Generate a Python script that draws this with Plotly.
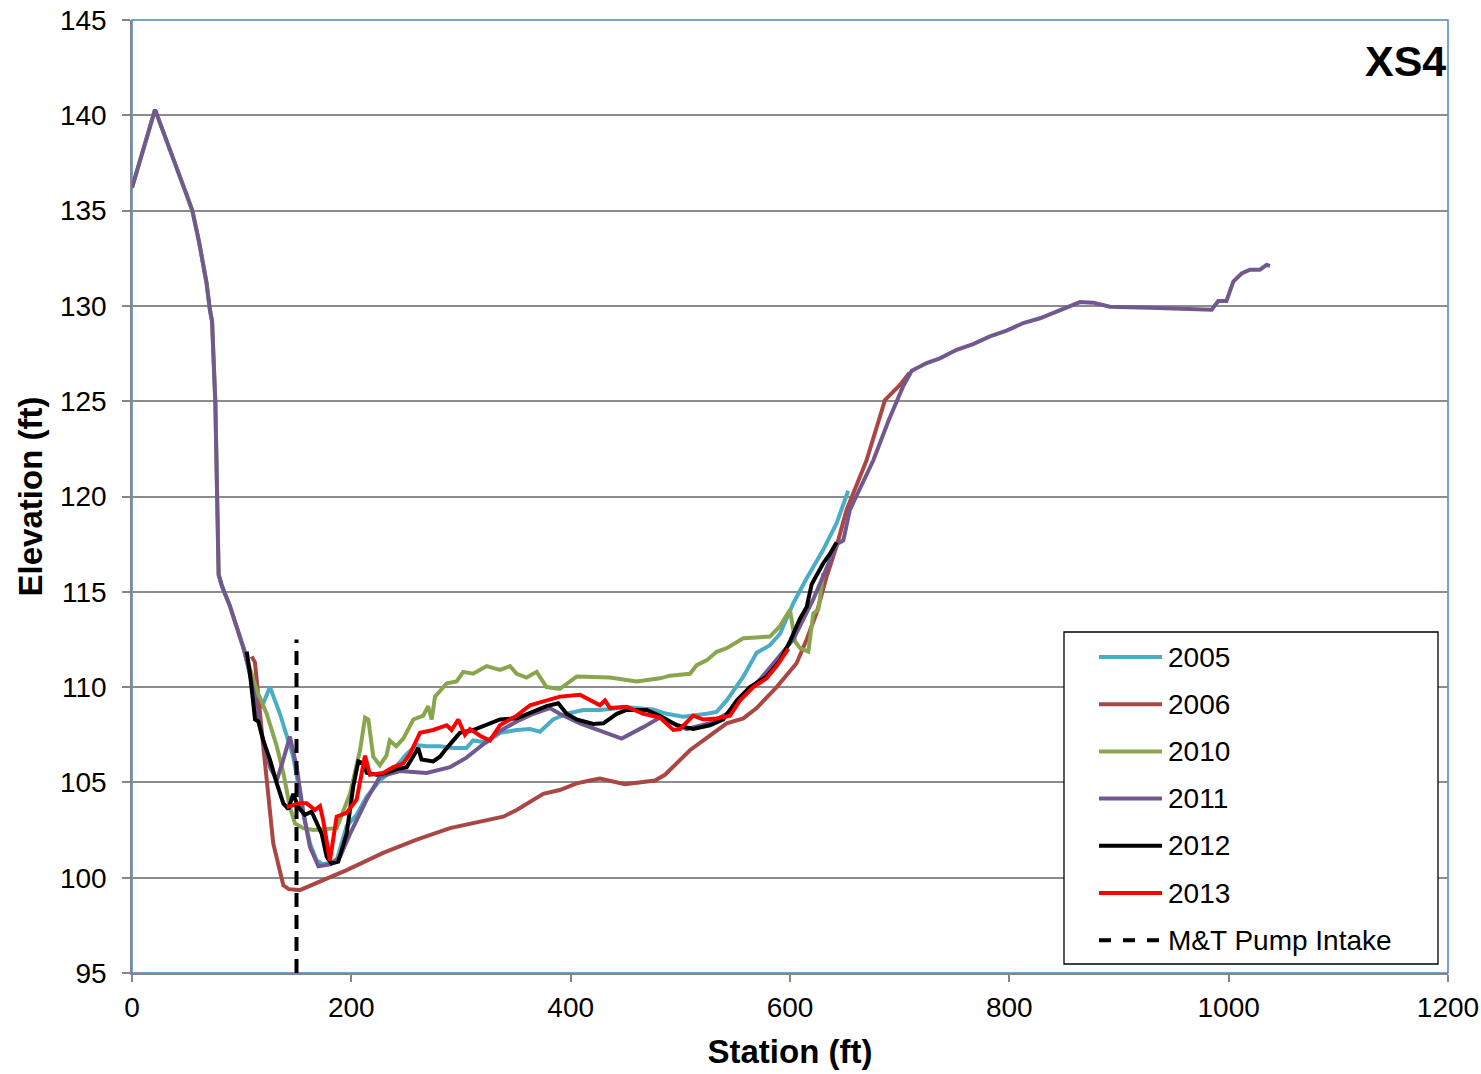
import plotly.graph_objects as go

# ---------------- data ----------------
upper_st = [0, 21, 50, 55, 61, 68, 71, 73, 76, 79, 82, 89, 98.5]
upper_el = [136.2, 140.3, 135.8, 135.0, 133.4, 131.2, 129.8, 129.2, 124.9, 115.9, 115.3, 114.3, 112.6]

st_2005 = [101.5, 110.6, 118, 125.8, 134.9, 147, 156.2, 162.3, 168.4, 174.4, 186.6, 195.7, 204.8, 214, 226,
           238.3, 250.5, 259.6, 268.7, 280.8, 293, 305, 311, 323.4, 335.6, 350.8, 363, 372, 384, 396.4,
           411.5, 426.7, 451, 475.3, 487.5, 502.7, 524, 533, 542.3, 557.4, 569.6, 581.7, 590.9, 603,
           615.1, 630.3, 642.5, 653.1]
el_2005 = [112.1, 109.9, 108.9, 110.0, 108.6, 106.35, 103.4, 101.8, 100.9, 100.7, 100.9, 102.7, 103.3, 104.25, 105.1,
           105.65, 106.5, 106.96, 106.9, 106.9, 106.8, 106.8, 107.2, 107.1, 107.6, 107.75, 107.8, 107.66, 108.3, 108.6,
           108.8, 108.8, 108.94, 108.83, 108.6, 108.45, 108.6, 108.7, 109.3, 110.55, 111.8, 112.2, 112.8, 114.4,
           115.7, 117.2, 118.6, 120.3]

st_2006 = [109.1, 112.1, 119.7, 128.8, 138, 143, 153, 195.7, 229, 259.6, 290, 320, 338.5, 350.8, 366, 375,
           390, 405.5, 417.6, 426.7, 449.5, 476.9, 486, 509, 521, 542.3, 557.4, 569.6, 587.8, 606, 615.2,
           624.3, 633.4, 642.5, 651.6, 669.8, 686.6, 700.3, 709]
el_2006 = [111.6, 111.3, 106.9, 101.8, 99.6, 99.4, 99.35, 100.4, 101.3, 102.0, 102.6, 102.94, 103.2, 103.55, 104.1, 104.4,
           104.6, 104.95, 105.1, 105.2, 104.9, 105.1, 105.4, 106.7, 107.2, 108.1, 108.36, 108.9, 110.0, 111.25, 112.5,
           113.9, 115.8, 117.4, 119.3, 121.9, 125.06, 125.85, 126.5]

st_2010 = upper_st + [113.7, 122.8, 132, 138, 144, 148.6, 156.2, 165.3, 186.6, 198.8, 208, 212.5, 215.5, 220,
                      226, 232, 235, 241, 247.4, 256.5, 265.6, 270, 273.3, 276.3, 287, 296, 302, 311, 323.4,
                      335.6, 344.7, 350.8, 359.8, 369, 378, 390, 405.5, 435.8, 460.1, 481.4, 490.6, 508.8,
                      514.9, 524, 533.1, 542.3, 557.4, 581.7, 590.9, 600, 604.6, 609.2, 616.7, 621.3, 625.8, 630.4]
el_2010 = upper_el + [109.85, 108.6, 106.9, 105.5, 103.7, 102.85, 102.6, 102.5, 102.6, 104.4, 106.7, 108.4, 108.3, 106.35,
                      105.9, 106.4, 107.2, 106.9, 107.3, 108.3, 108.5, 109.0, 108.3, 109.5, 110.2, 110.3, 110.8, 110.7, 111.1,
                      110.9, 111.1, 110.7, 110.5, 110.8, 110.0, 109.9, 110.55, 110.5, 110.3, 110.46, 110.6, 110.7,
                      111.15, 111.4, 111.85, 112.04, 112.56, 112.65, 113.2, 114.05, 112.4, 112.04, 111.86, 113.87, 114.05, 115.97]

st_2011 = upper_st[:-1] + [101.5, 106, 110.6, 116.7, 125.8, 132, 138, 144, 150.2, 156.2, 162.3, 170, 180.5,
                           189.7, 198.8, 214, 226, 244.4, 268.7, 290, 305, 320.3, 335.6, 350.8, 366, 381, 390,
                           408.5, 426.7, 446.5, 466.2, 481.5, 505.8, 527, 542.3, 572.6, 603, 621.2, 642.5,
                           648.6, 654.6, 676, 690, 703.3, 711, 724.6, 736.7, 752, 767, 782.3, 797.5, 812.7,
                           828, 843, 852, 864.4, 876.5, 891.7, 928.2, 958.6, 984.5, 990.5, 998, 1004.2,
                           1011.8, 1019.4, 1028.5, 1034.6, 1037.7]
el_2011 = upper_el[:-1] + [112.1, 111.1, 109.85, 107.9, 105.8, 105.1, 106.2, 107.4, 105.8, 103.4, 101.6, 100.6, 100.7,
                           101.1, 102.3, 104.1, 105.3, 105.6, 105.5, 105.8, 106.3, 107.0, 107.7, 108.2, 108.6, 108.9, 108.6,
                           108.1, 107.7, 107.3, 107.9, 108.4, 107.8, 108.1, 108.6, 110.4, 112.5, 114.6, 117.5,
                           117.7, 119.3, 121.9, 124.0, 125.8, 126.6, 127.0, 127.25, 127.7, 128.0, 128.4, 128.7, 129.1,
                           129.35, 129.7, 129.96, 130.2, 130.17, 129.96, 129.9, 129.85, 129.8, 130.26, 130.26, 131.27,
                           131.7, 131.9, 131.9, 132.15, 132.1]

st_2012 = [104.6, 107.6, 112.2, 115.2, 119.7, 125.8, 132, 138, 142.6, 147, 151.6, 157.7, 163.8, 173, 177.5,
           182, 188.1, 195.7, 201.8, 206.4, 211, 214, 223, 232.2, 241.3, 250.5, 261, 264, 274.6, 280.8, 287,
           299, 311, 323.4, 335.6, 350.8, 366, 378, 388.7, 396.3, 405.5, 420.6, 429.8, 442, 451, 469.2,
           481.4, 496.6, 511.8, 527, 539.2, 551.4, 563.5, 578.7, 590.9, 600, 609.2, 615.2, 619.8, 630.3,
           636.5, 642.5]
el_2012 = [111.86, 110.7, 108.3, 108.2, 107.2, 106.2, 104.95, 103.9, 103.6, 104.4, 103.7, 103.3, 103.46, 102.3, 101.1,
           100.75, 100.84, 102.3, 104.8, 106.1, 106.0, 105.5, 105.4, 105.5, 105.7, 105.8, 106.8, 106.2, 106.1, 106.35, 106.8,
           107.6, 107.75, 108.0, 108.3, 108.36, 108.7, 109.0, 109.15, 108.6, 108.3, 108.07, 108.1, 108.6, 108.8, 108.8,
           108.5, 108.0, 107.8, 108.0, 108.3, 109.3, 110.0, 110.55, 111.4, 112.4, 113.6, 114.2, 115.4, 116.5,
           117.0, 117.6]

st_2013 = [141, 153.2, 159.3, 166.9, 171.4, 174.4, 180.5, 183.5, 186.6, 195.7, 204.8, 212.5, 217, 229, 238.3,
           247.4, 253.5, 262.6, 274.6, 287, 291.4, 297.5, 303.6, 308.2, 318.8, 326.4, 335.6, 350.8, 363, 372,
           390.3, 408.5, 417.6, 426.7, 431.3, 435.9, 451, 466.2, 481.4, 493.6, 499.7, 511.8, 521, 533.1,
           545.3, 554.4, 566.5, 578.7, 587.8, 598.5]
el_2013 = [103.7, 103.9, 103.9, 103.55, 103.76, 103.0, 100.9, 102.0, 103.2, 103.4, 104.1, 106.4, 105.4, 105.5, 105.8,
           106.0, 106.5, 107.6, 107.75, 108.0, 107.75, 108.3, 107.5, 107.8, 107.4, 107.2, 108.0, 108.5, 109.05, 109.2,
           109.5, 109.6, 109.3, 109.05, 109.3, 108.9, 108.97, 108.6, 108.4, 107.75, 107.8, 108.5, 108.3, 108.35,
           108.5, 109.3, 110.0, 110.46, 111.1, 112.0]

pump_st = [150, 150]
pump_el = [95, 112.5]

series_names = ["2005", "2006", "2010", "2011", "2012", "2013"]
series_colors = ["#4BACC6", "#AA4643", "#89A54E", "#71588F", "#000000", "#FF0000"]
series_x = [st_2005, st_2006, st_2010, st_2011, st_2012, st_2013]
series_y = [el_2005, el_2006, el_2010, el_2011, el_2012, el_2013]
pump_name = "M&T Pump Intake"

x_ticks = [0, 200, 400, 600, 800, 1000, 1200]
y_ticks = [95, 100, 105, 110, 115, 120, 125, 130, 135, 140, 145]

FONT = "Liberation Sans, Arial, sans-serif"

# ---------------- figure ----------------
fig = go.Figure()
for name, col, xs, ys in zip(series_names, series_colors, series_x, series_y):
    fig.add_trace(go.Scatter(x=xs, y=ys, mode="lines", name=name,
                             line=dict(color=col, width=4), showlegend=False))
fig.add_trace(go.Scatter(x=pump_st, y=pump_el, mode="lines", name=pump_name,
                         line=dict(color="#000000", width=4, dash="14px,8px"), showlegend=False))

# page body margin is removed below, so the figure fills the whole window
W, H = 1481, 1074
L, T = 132, 20
R = W - 1448
B = H - 973
PW, PH = W - L - R, H - T - B


def px(xp):
    return (xp - L) / PW


def py(yp):
    return (H - B - yp) / PH


shapes = []
annotations = []
# blue frame for top/right of plot area
shapes.append(dict(type="rect", xref="paper", yref="paper", x0=0, x1=1, y0=0, y1=1,
                   line=dict(color="#4F81BD", width=1.5), layer="below"))
# legend box
shapes.append(dict(type="rect", xref="paper", yref="paper", x0=px(1064), x1=px(1438),
                   y0=py(964), y1=py(632), line=dict(color="#000000", width=1.3),
                   fillcolor="white", layer="above"))
leg_names = series_names + [pump_name]
leg_colors = series_colors + ["#000000"]
for i, (nm, col) in enumerate(zip(leg_names, leg_colors)):
    yc = 657 + i * 47.2
    dash = "dash" if nm == pump_name else "solid"
    shapes.append(dict(type="line", xref="paper", yref="paper", x0=px(1099), x1=px(1162),
                       y0=py(yc), y1=py(yc), layer="above",
                       line=dict(color=col, width=4, dash=dash)))
    annotations.append(dict(text=nm, xref="paper", yref="paper", x=px(1166), y=py(yc),
                            xanchor="left", yanchor="middle", showarrow=False,
                            font=dict(family=FONT, size=28, color="#000000")))

annotations.append(dict(text="<b>XS4</b>", xref="paper", yref="paper", x=1.0, y=py(61),
                        xanchor="right", yanchor="middle", showarrow=False,
                        font=dict(family=FONT, size=43, color="#000000")))

fig.update_layout(
    width=W, height=H,
    margin=dict(l=L, r=R, t=T, b=B, autoexpand=False),
    paper_bgcolor="white", plot_bgcolor="white",
    font=dict(family=FONT, color="#000000"),
    showlegend=False,
    shapes=shapes, annotations=annotations,
    xaxis=dict(range=[0, 1200], tickvals=x_ticks, showgrid=False, zeroline=False,
               showline=True, linecolor="#868686", linewidth=1.5,
               ticks="outside", ticklen=7, tickcolor="#868686", tickwidth=1.5,
               tickfont=dict(family=FONT, size=28, color="#000000"), ticklabelstandoff=2,
               ticklabeloverflow="allow",
               title=dict(text="<b>Station (ft)</b>", font=dict(family=FONT, size=33, color="#000000"),
                          standoff=18)),
    yaxis=dict(range=[95, 145], tickvals=y_ticks, showgrid=True, gridcolor="#8C8C8C", gridwidth=1.5,
               zeroline=False, showline=True, linecolor="#868686", linewidth=1.5,
               ticks="outside", ticklen=8, tickcolor="#868686", tickwidth=1.5,
               tickfont=dict(family=FONT, size=28, color="#000000"), ticklabelstandoff=10,
               ticklabeloverflow="allow",
               title=dict(text="<b>Elevation (ft)</b>", font=dict(family=FONT, size=33, color="#000000"),
                          standoff=7)),
)

fig.write_html("out.html", config={"displayModeBar": False},
               post_script="document.body.style.margin='0';document.body.style.overflow='hidden';")
